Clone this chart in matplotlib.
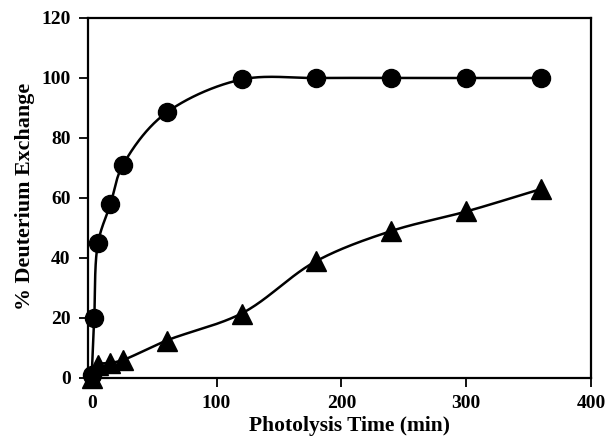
import numpy as np
import matplotlib
matplotlib.use('Agg')
import matplotlib.pyplot as plt

# photolysis time (min) and % deuterium exchange
circle_t = [0, 2, 5, 15, 25, 60, 120, 180, 240, 300, 360]
circle_d = [1, 20, 45, 58, 71, 88.5, 99.5, 100, 100, 100, 100]

tri_t = [0, 5, 15, 25, 60, 120, 180, 240, 300, 360]
tri_d = [0, 4.5, 5, 6, 12.5, 21.5, 39, 49, 55.5, 63]

xticks = [0, 100, 200, 300, 400]
yticks = [0, 20, 40, 60, 80, 100, 120]


def smooth(x, y, sx=400.0, sy=120.0, n=40):
  # centripetal catmull-rom through the points, in normalised axis space
  p = np.column_stack([np.asarray(x, float) / sx, np.asarray(y, float) / sy])
  p = np.vstack([2 * p[0] - p[1], p, 2 * p[-1] - p[-2]])
  out = []
  for i in range(1, len(p) - 2):
    p0, p1, p2, p3 = p[i - 1], p[i], p[i + 1], p[i + 2]
    t0 = 0.0
    t1 = t0 + np.linalg.norm(p1 - p0) ** 0.5
    t2 = t1 + np.linalg.norm(p2 - p1) ** 0.5
    t3 = t2 + np.linalg.norm(p3 - p2) ** 0.5
    t = np.linspace(t1, t2, n)[:, None]
    a1 = (t1 - t) / (t1 - t0) * p0 + (t - t0) / (t1 - t0) * p1
    a2 = (t2 - t) / (t2 - t1) * p1 + (t - t1) / (t2 - t1) * p2
    a3 = (t3 - t) / (t3 - t2) * p2 + (t - t2) / (t3 - t2) * p3
    b1 = (t2 - t) / (t2 - t0) * a1 + (t - t0) / (t2 - t0) * a2
    b2 = (t3 - t) / (t3 - t1) * a2 + (t - t1) / (t3 - t1) * a3
    c = (t2 - t) / (t2 - t1) * b1 + (t - t1) / (t2 - t1) * b2
    out.append(c)
  c = np.vstack(out)
  return c[:, 0] * sx, c[:, 1] * sy


plt.rcParams['font.family'] = ['Liberation Serif', 'DejaVu Serif']
plt.rcParams['font.weight'] = 'bold'

fig = plt.figure(figsize=(6.06, 4.41), dpi=100)
ax = fig.add_axes([88 / 606, 1 - 378 / 441, (591 - 88) / 606, (378 - 18) / 441])

for t, d, m, ms in [(circle_t, circle_d, 'o', 13), (tri_t, tri_d, '^', 15)]:
  sx, sy = smooth(t, d)
  ax.plot(sx, sy, color='black', lw=1.8, zorder=2)
  ax.plot(t, d, ls='none', marker=m, ms=ms, color='black', zorder=3, clip_on=False)

ax.set_xlim(-3, 400)
ax.set_ylim(0, 120)
ax.set_xticks(xticks)
ax.set_yticks(yticks)
ax.tick_params(direction='out', length=6.5, width=1.3, labelsize=14, pad=6)
for s in ax.spines.values():
  s.set_linewidth(1.6)
ax.set_xlabel('Photolysis Time (min)', fontsize=15.5, fontweight='bold')
ax.set_ylabel('% Deuterium Exchange', fontsize=15.8, fontweight='bold')
ax.xaxis.set_label_coords(0.519, -0.106)
ax.yaxis.set_label_coords(-0.105, 0.505)

fig.savefig('out.png', dpi=100)
